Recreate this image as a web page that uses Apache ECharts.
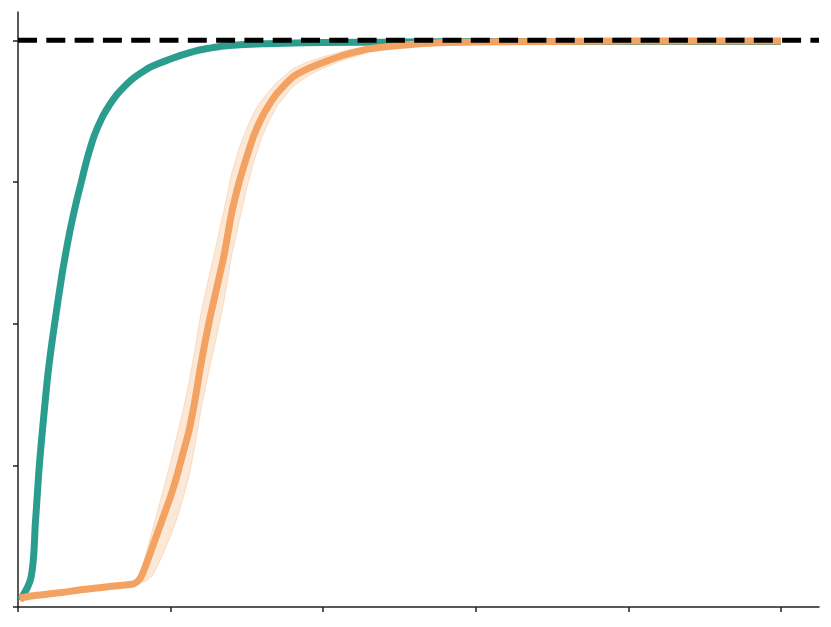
<!DOCTYPE html>
<html><head><meta charset="utf-8">
<script src="https://cdn.jsdelivr.net/npm/echarts@6/dist/echarts.min.js"></script>
<style>html,body{margin:0;padding:0;background:#fff}#c{width:831px;height:627px}</style>
</head><body><div id="c"></div>
<script>
// ---- data ----
const xTicks = [0, 100, 200, 300, 400, 500];
const yTicks = [0, 0.25, 0.5, 0.75, 1.0];
const xRange = [0, 525];
const yRange = [0, 1.05];
const refLevel = 1.0;

const greenX = [1.4, 8.6, 11.5, 14, 17, 20, 24, 28, 30, 34, 38, 41.5, 45, 50, 55, 60, 65, 71, 76, 82, 87, 93, 100, 106, 112, 119, 125, 135, 145, 160, 175, 200, 250, 300, 400, 500];
const greenY = [0.012, 0.053, 0.153, 0.25, 0.34, 0.42, 0.50, 0.572, 0.605, 0.663, 0.712, 0.75, 0.788, 0.832, 0.863, 0.886, 0.905, 0.922, 0.934, 0.945, 0.953, 0.960, 0.967, 0.973, 0.978, 0.983, 0.986, 0.990, 0.992, 0.994, 0.995, 0.996, 0.997, 0.998, 0.998, 0.998];

const orangeX = [1, 10, 20, 30, 40, 50, 60, 70, 76, 80, 84, 88, 92, 96, 100, 104, 108, 112, 116, 120, 125, 130, 135, 140, 145, 150, 155, 160, 165, 170, 180, 190, 200, 215, 230, 250, 270, 300, 350, 400, 450, 500];
const orangeY = [0.016, 0.020, 0.023, 0.026, 0.030, 0.033, 0.036, 0.039, 0.041, 0.050, 0.075, 0.105, 0.135, 0.165, 0.195, 0.23, 0.27, 0.31, 0.365, 0.43, 0.50, 0.56, 0.62, 0.695, 0.75, 0.795, 0.835, 0.865, 0.888, 0.907, 0.935, 0.950, 0.961, 0.975, 0.985, 0.991, 0.995, 0.997, 0.998, 0.999, 0.999, 0.999];
const orangeLow = [0.014, 0.018, 0.021, 0.024, 0.028, 0.031, 0.034, 0.037, 0.039, 0.043, 0.046, 0.055, 0.075, 0.10, 0.125, 0.155, 0.19, 0.23, 0.285, 0.35, 0.415, 0.475, 0.54, 0.62, 0.68, 0.74, 0.79, 0.83, 0.86, 0.885, 0.918, 0.937, 0.951, 0.967, 0.979, 0.987, 0.992, 0.995, 0.996, 0.997, 0.997, 0.997];
const orangeHigh = [0.018, 0.022, 0.025, 0.028, 0.032, 0.035, 0.038, 0.041, 0.044, 0.060, 0.095, 0.135, 0.175, 0.215, 0.255, 0.30, 0.345, 0.395, 0.455, 0.52, 0.58, 0.64, 0.70, 0.765, 0.81, 0.845, 0.875, 0.895, 0.912, 0.927, 0.95, 0.962, 0.971, 0.982, 0.99, 0.995, 0.997, 0.999, 1.0, 1.0, 1.0, 1.0];

const GREEN = '#2A9D8F';
const ORANGE = '#F4A261';
const AXIS = '#222222';

const chart = echarts.init(document.getElementById('c'), null, {renderer: 'canvas'});

function bandItem(params, api) {
  if (params.dataIndex !== 0) return null;
  const up = [], lo = [];
  for (let i = 0; i < orangeX.length; i++) {
    up.push(api.coord([orangeX[i], orangeHigh[i]]));
    lo.push(api.coord([orangeX[i], orangeLow[i]]));
  }
  const poly = up.concat(lo.slice().reverse());
  return {
    type: 'group',
    children: [
      {type: 'polygon', shape: {points: poly}, style: {fill: 'rgba(244,162,97,0.25)', stroke: null}},
      {type: 'polyline', shape: {points: up}, style: {stroke: 'rgba(244,162,97,0.3)', lineWidth: 1, fill: null}},
      {type: 'polyline', shape: {points: lo}, style: {stroke: 'rgba(244,162,97,0.3)', lineWidth: 1, fill: null}}
    ]
  };
}

const axisCommon = {
  axisLine: {show: true, onZero: false, lineStyle: {color: AXIS, width: 1.5}},
  axisTick: {show: true, inside: false, length: 5, lineStyle: {color: AXIS, width: 1.5}},
  axisLabel: {show: false},
  splitLine: {show: false}
};

chart.setOption({
  animation: false,
  backgroundColor: '#ffffff',
  grid: {left: 18, right: 12, top: 12, bottom: 20, containLabel: false},
  xAxis: Object.assign({type: 'value', min: xRange[0], max: xRange[1]}, axisCommon,
    {axisTick: Object.assign({}, axisCommon.axisTick, {customValues: xTicks})}),
  yAxis: Object.assign({type: 'value', min: yRange[0], max: yRange[1]}, axisCommon,
    {axisTick: Object.assign({}, axisCommon.axisTick, {customValues: yTicks})}),
  series: [
    {
      name: 'green', type: 'line', z: 2, showSymbol: false, symbol: 'none',
      smooth: 0.35,
      data: greenX.map((x, i) => [x, greenY[i]]),
      lineStyle: {color: GREEN, width: 7}
    },
    {
      name: 'band', type: 'custom', z: 3, renderItem: bandItem,
      data: orangeX.map((x, i) => [x, orangeY[i]]),
      silent: true
    },
    {
      name: 'orange', type: 'line', z: 4, showSymbol: false, symbol: 'none',
      smooth: 0.25,
      data: orangeX.map((x, i) => [x, orangeY[i]]),
      lineStyle: {color: ORANGE, width: 7}
    },
    {
      name: 'reference', type: 'line', z: 5, showSymbol: false, symbol: 'none',
      data: [[xRange[0], refLevel], [xRange[1], refLevel]],
      lineStyle: {color: '#000000', width: 5, type: [19, 9.3], cap: 'butt'}
    }
  ]
});
</script>
</body></html>
